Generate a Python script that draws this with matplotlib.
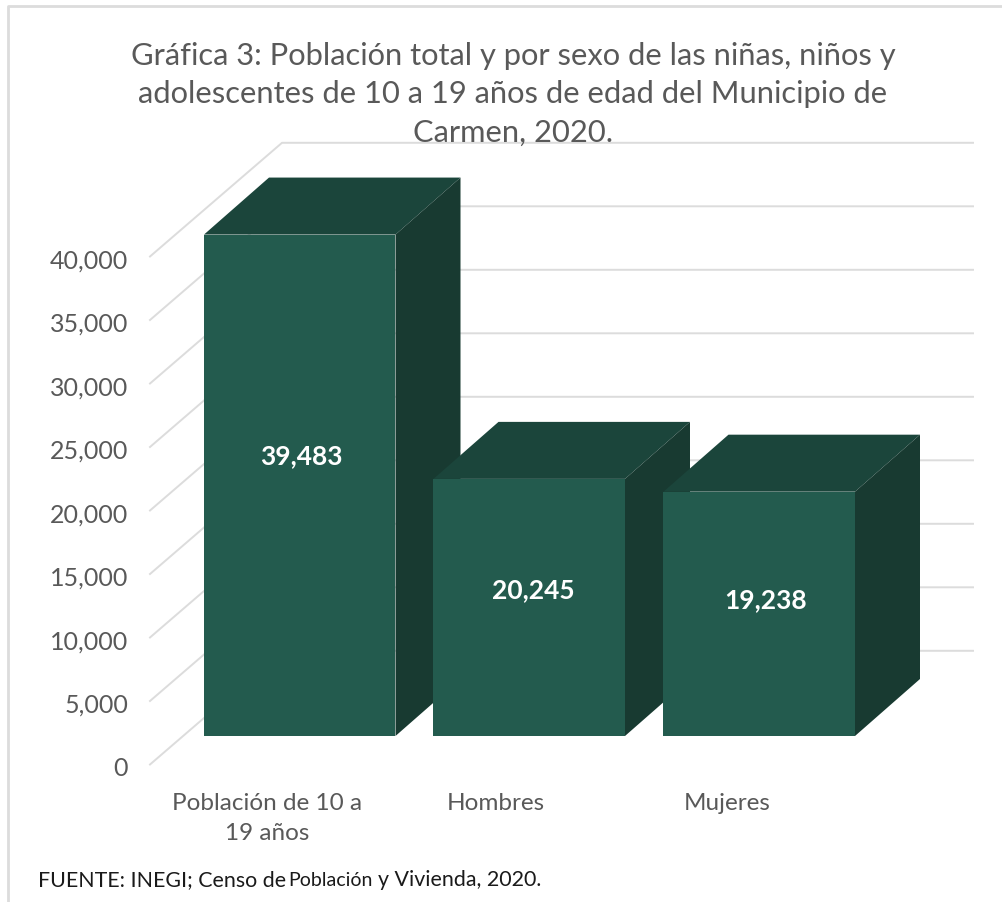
import matplotlib
matplotlib.use("Agg")
import matplotlib.pyplot as plt
from matplotlib.patches import Polygon

plt.rcParams['font.family'] = ['Lato', 'DejaVu Sans']

categorias = ['Población de 10 a\n19 años', 'Hombres', 'Mujeres']
valores = [39483, 20245, 19238]
etiquetas = ['39,483', '20,245', '19,238']
ticks = [0, 5000, 10000, 15000, 20000, 25000, 30000, 35000, 40000]
tick_labels = ['0', '5,000', '10,000', '15,000', '20,000', '25,000', '30,000', '35,000', '40,000']
titulo = 'Gráfica 3: Población total y por sexo de las niñas, niños y\nadolescentes de 10 a 19 años de edad del Municipio de\nCarmen, 2020.'

W, H = 1003, 903
ESC = 0.0127  # px por unidad

fig = plt.figure(figsize=(W / 100, H / 100), dpi=100)
ax = fig.add_axes([0, 0, 1, 1])
# eje y en unidades de la grafica, eje x en pixeles
Y0 = 765.5
ax.set_xlim(0, W)
ax.set_ylim((Y0 - H) / ESC, Y0 / ESC)
ax.axis('off')


def py(p):
    # pixel de la imagen -> valor del eje y
    return (Y0 - p) / ESC


GRIS = '#dcdcdc'
frente_x, fondo_x, fin_x = 150, 282, 973
fondo_dy = 113.7 / ESC
base = py(737)
prof_x, prof_y = 65, 57 / ESC

# marco
ax.plot([8, 8, 1003], [py(903), py(7), py(7)], color='#dcdcdc', lw=2)

# paredes
for t in ticks:
    ax.plot([frente_x, fondo_x, fin_x], [t, t + fondo_dy, t + fondo_dy], color=GRIS, lw=1.4)

for t, lab in zip(ticks, tick_labels):
    ax.text(128, t - 3.5 / ESC, lab, ha='right', va='center', fontsize=18, color='#595959')

# barras
xs = [204, 433.5, 663.5]
ancho = 191.5
for x, v in zip(xs, valores):
    top = base + v
    ax.add_patch(Polygon([(x, top), (x + prof_x, top + prof_y), (x + ancho + prof_x, top + prof_y), (x + ancho, top)],
                         fc='#1b453b', ec='none', zorder=3))
    ax.add_patch(Polygon([(x + ancho, base), (x + ancho + prof_x, base + prof_y), (x + ancho + prof_x, top + prof_y), (x + ancho, top)],
                         fc='#183a31', ec='none', zorder=3))
    ax.add_patch(Polygon([(x, base), (x + ancho, base), (x + ancho, top), (x, top)],
                         fc='#235b4e', ec='none', zorder=4))

# etiquetas de datos
lab_x = [301, 533, 766]
lab_y = [456, 590, 600]
for x, p, s in zip(lab_x, lab_y, etiquetas):
    ax.text(x, py(p), s, ha='center', va='center', color='white', fontsize=19, fontweight='bold', zorder=5)

# categorias
cat_x = [267, 496, 727]
for x, c in zip(cat_x, categorias):
    ax.text(x, py(793), c, ha='center', va='top', fontsize=17.5, color='#595959', linespacing=1.55)

ax.text(513, py(94), titulo, ha='center', va='center', fontsize=22.2, color='#595959', linespacing=1.45, zorder=6)

# fuente
ax.text(38, py(880), 'FUENTE: INEGI; Censo de', ha='left', va='center', fontsize=15.4, color='#1a1a1a')
ax.text(288, py(881), 'Población', ha='left', va='center', fontsize=14, color='#1a1a1a')
ax.text(378, py(880), 'y Vivienda, 2020.', ha='left', va='center', fontsize=15.4, color='#1a1a1a')

fig.savefig('out.png', dpi=100, facecolor='white')
